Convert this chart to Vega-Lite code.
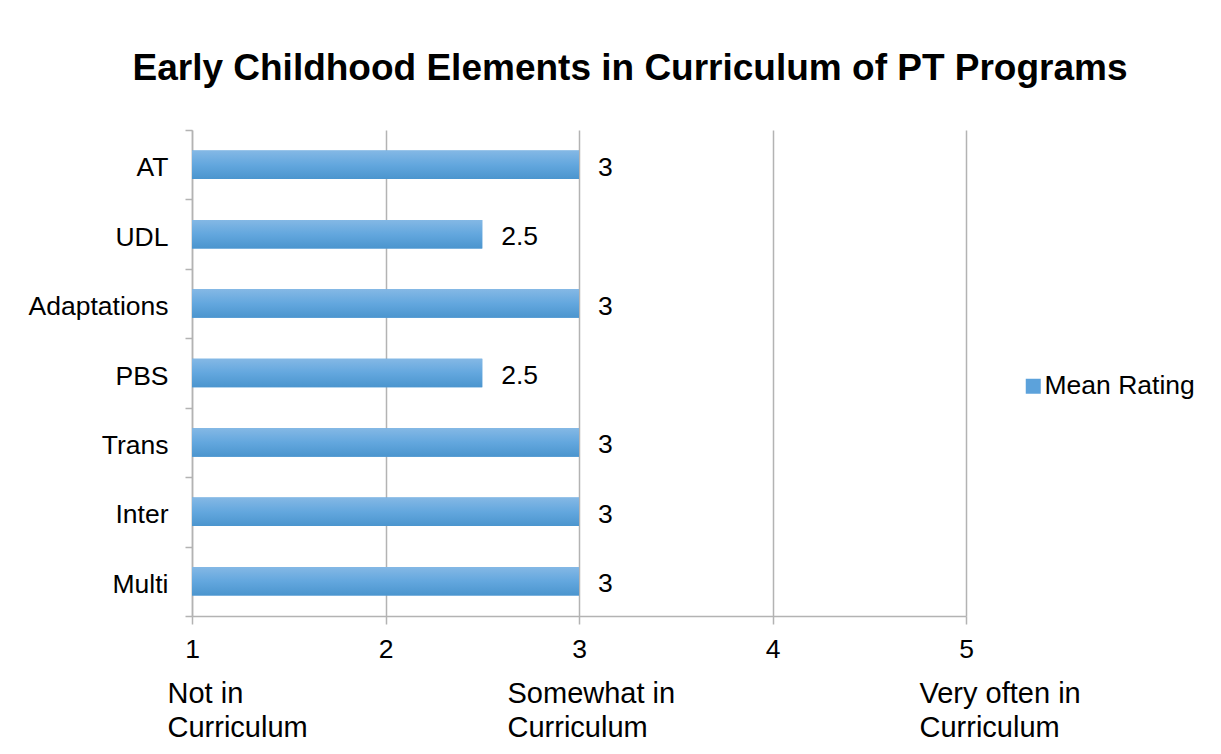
{
  "$schema": "https://vega.github.io/schema/vega-lite/v6.json",
  "autosize": {"type": "none"},
  "padding": {"left": 192, "top": 130, "right": 255, "bottom": 138},
  "width": 774,
  "height": 486,
  "background": "white",
  "title": {
    "text": "Early Childhood Elements in Curriculum of PT Programs",
    "font": "Liberation Sans",
    "fontSize": 37,
    "fontWeight": "bold",
    "color": "black",
    "anchor": "middle",
    "dx": 51,
    "baseline": "alphabetic",
    "offset": 0
  },
  "data": {
    "values": [
      {"Element": "AT", "Rating": 3, "Series": "Mean Rating"},
      {"Element": "UDL", "Rating": 2.5, "Series": "Mean Rating"},
      {"Element": "Adaptations", "Rating": 3, "Series": "Mean Rating"},
      {"Element": "PBS", "Rating": 2.5, "Series": "Mean Rating"},
      {"Element": "Trans", "Rating": 3, "Series": "Mean Rating"},
      {"Element": "Inter", "Rating": 3, "Series": "Mean Rating"},
      {"Element": "Multi", "Rating": 3, "Series": "Mean Rating"}
    ]
  },
  "config": {
    "view": {"stroke": null},
    "font": "Liberation Sans"
  },
  "encoding": {
    "y": {
      "field": "Element",
      "type": "nominal",
      "sort": null,
      "scale": {"paddingInner": 0, "paddingOuter": 0},
      "axis": {
        "title": null,
        "tickBand": "extent",
        "domainColor": "#b3b3b3",
        "domainWidth": 1.5,
        "tickColor": "#b3b3b3",
        "tickWidth": 1.5,
        "tickSize": 7,
        "labelFont": "Liberation Sans",
        "labelFontSize": 26.5,
        "labelColor": "black",
        "labelPadding": 17,
        "labelOffset": 3,
        "grid": false
      }
    }
  },
  "layer": [
    {
      "mark": {"type": "bar", "height": {"band": 0.41}},
      "encoding": {
        "x": {
          "field": "Rating",
          "type": "quantitative",
          "scale": {"domain": [1, 5], "zero": false, "nice": false},
          "axis": {
            "orient": "bottom",
            "title": null,
            "values": [1, 2, 3, 4, 5],
            "grid": true,
            "gridColor": "#b3b3b3",
            "gridWidth": 1.5,
            "domainColor": "#b3b3b3",
            "domainWidth": 1.5,
            "tickColor": "#b3b3b3",
            "tickWidth": 1.5,
            "tickSize": 8,
            "labelFont": "Liberation Sans",
            "labelFontSize": 26.5,
            "labelColor": "black",
            "labelPadding": 12,
            "labelFlush": false
          }
        },
        "x2": {"datum": 1},
        "color": {
          "field": "Series",
          "type": "nominal",
          "scale": {"range": ["#5ca2db"]},
          "legend": {
            "title": null,
            "orient": "none",
            "legendX": 828,
            "legendY": 243,
            "padding": 0,
            "symbolType": "square",
            "symbolSize": 225,
            "symbolStrokeWidth": 0,
            "symbolOpacity": 1,
            "labelFont": "Liberation Sans",
            "labelFontSize": 26.5,
            "labelColor": "black",
            "labelOffset": -2
          }
        }
      }
    },
    {
      "mark": {
        "type": "bar",
        "height": {"band": 0.41},
        "fill": {
          "gradient": "linear",
          "x1": 0, "y1": 0, "x2": 0, "y2": 1,
          "stops": [
            {"offset": 0, "color": "#84b8e5"},
            {"offset": 0.5, "color": "#63a7de"},
            {"offset": 1, "color": "#4b95ce"}
          ]
        }
      },
      "encoding": {
        "x": {"field": "Rating", "type": "quantitative", "axis": null},
        "x2": {"datum": 1}
      }
    },
    {
      "mark": {"type": "text", "align": "left", "dx": 19, "dy": 3, "font": "Liberation Sans", "fontSize": 26.5, "color": "black"},
      "encoding": {
        "x": {"field": "Rating", "type": "quantitative", "axis": null},
        "text": {"field": "Rating", "type": "quantitative"}
      }
    },
    {
      "mark": {"type": "point", "opacity": 0},
      "encoding": {
        "x": {
          "field": "Rating",
          "type": "quantitative",
          "axis": {
            "orient": "bottom",
            "title": null,
            "values": [1, 3, 5],
            "labelExpr": "datum.value == 1 ? ['Not in', 'Curriculum'] : datum.value == 3 ? ['Somewhat in', 'Curriculum'] : ['Very often in', 'Curriculum']",
            "domain": false,
            "ticks": false,
            "grid": false,
            "offset": 63,
            "labelAlign": "left",
            "labelBaseline": "top",
            "labelOffset": {"expr": "datum.value == 1 ? -25 : datum.value == 3 ? -72 : -47"},
            "labelFont": "Liberation Sans",
            "labelFontSize": 29,
            "labelLineHeight": 34,
            "labelColor": "black",
            "labelOverlap": false,
            "labelBound": false,
            "labelFlush": false,
            "labelPadding": 0
          }
        }
      }
    }
  ],
  "resolve": {"axis": {"x": "independent"}}
}
